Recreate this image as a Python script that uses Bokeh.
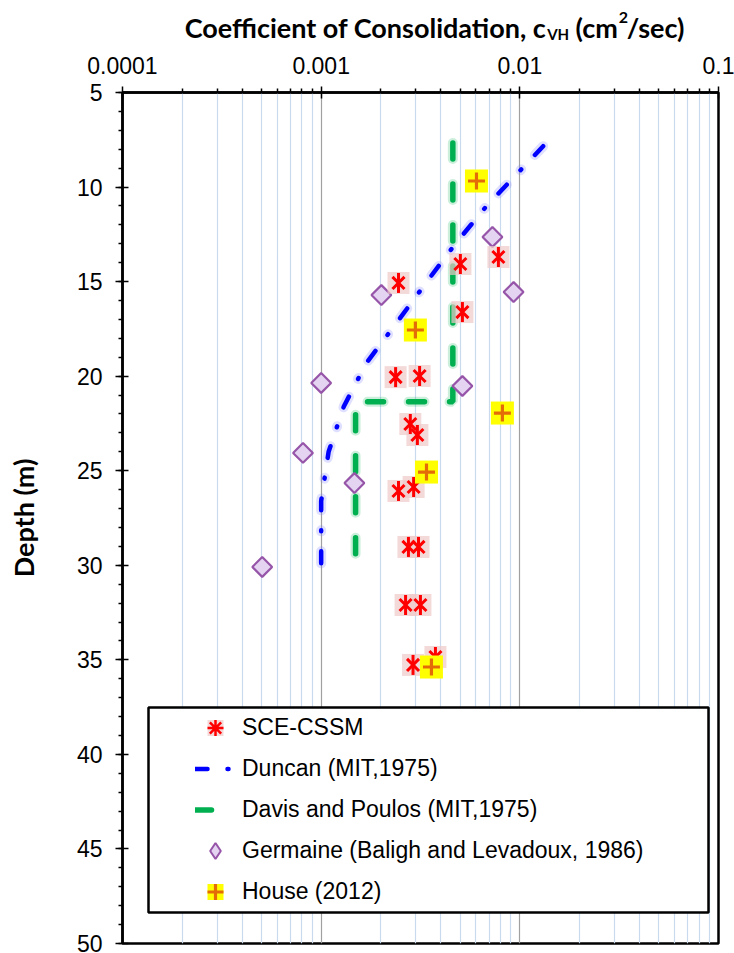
import numpy as np
from bokeh.plotting import figure
from bokeh.layouts import column
from bokeh.models import (Range1d, FixedTicker, Legend, LegendItem, BoxAnnotation)
from bokeh.core.properties import value
from bokeh.embed import file_html
from bokeh.resources import INLINE

# ---------------- data ----------------
sce_cv = [0.00245, 0.00502, 0.0078, 0.00514, 0.00237, 0.00313, 0.00281, 0.00305,
          0.00245, 0.00292, 0.00275, 0.00309, 0.00266, 0.00316, 0.0029, 0.00376]
sce_depth = [15.07, 14.07, 13.70, 16.61, 20.05, 19.99, 22.53, 23.11,
             26.07, 25.86, 29.03, 29.03, 32.1, 32.1, 35.27, 34.85]

house_cv = [0.00605, 0.00298, 0.00817, 0.00339, 0.00359]
house_depth = [9.68, 17.56, 21.95, 25.07, 35.38]

germ_cv = [0.00728, 0.00201, 0.0093, 0.001, 0.00514, 0.00081, 0.00147, 0.000505]
germ_depth = [12.64, 15.71, 15.55, 20.36, 20.52, 24.06, 25.65, 30.09]

duncan_cv = [0.0131, 0.0101, 0.0068, 0.00474, 0.00335, 0.00239, 0.00169, 0.0013,
             0.00109, 0.001, 0.001, 0.001]
duncan_depth = [7.84, 9.1, 11.0, 13.0, 15.1, 17.2, 19.3, 21.6, 24.0, 26.6, 29.2, 30.0]

davis_cv = [0.0046, 0.0046, 0.0046, 0.00149, 0.00149]
davis_depth = [7.67, 16.0, 21.35, 21.35, 30.41]

x_ticks = [0.0001, 0.001, 0.01, 0.1]
x_tick_labels = ["0.0001", "0.001", "0.01", "0.1"]
x_minor = [k * 10.0 ** e for e in (-4, -3, -2) for k in range(2, 10)]
y_ticks = list(range(5, 51, 5))
y_minor = list(range(5, 51))

legend_labels = ["SCE-CSSM", "Duncan (MIT,1975)", "Davis and Poulos (MIT,1975)",
                 "Germaine (Baligh and Levadoux, 1986)", "House (2012)"]

title_parts = ["Coefficient of Consolidation, c", "VH", "(cm", "2", "/sec)"]

# ---------------- layout constants (pixels) ----------------
W, H = 734, 953
TH = 46                               # height of the title strip
FL, FR, FT, FB = 122, 718, 92, 943    # frame edges in page pixels

def px2x(px):
    return 10 ** (-4 + 3 * (px - FL) / (FR - FL))
def py2y(py):
    return 5 + 45 * (py - FT) / (FB - FT)

# ---------------- title strip ----------------
t = figure(width=W, height=TH, x_range=Range1d(0, W), y_range=Range1d(TH, 0),
           x_axis_location=None, y_axis_location=None, output_backend="svg",
           toolbar_location=None, min_border=0, title=None)
t.grid.visible = False
t.outline_line_color = None
t.background_fill_color = "white"
t.border_fill_color = "white"
tk = dict(text_font=value("Lato"), text_font_style="bold", text_color="black",
          text_baseline="alphabetic")
t.text(x=[522], y=[27], text=[title_parts[0]], text_align="right", text_font_size="27px", **tk)
t.text(x=[523], y=[33], text=[title_parts[1]], text_align="left", text_font_size="15px", **tk)
t.text(x=[610], y=[27], text=[title_parts[2]], text_align="right", text_font_size="27px", **tk)
t.text(x=[611], y=[17], text=[title_parts[3]], text_align="left", text_font_size="16px", **tk)
t.text(x=[621], y=[27], text=[title_parts[4]], text_align="left", text_font_size="27px", **tk)

# ---------------- main plot ----------------
p = figure(width=W, height=H - TH, x_axis_type="log",
           x_range=Range1d(1e-4, 0.1), y_range=Range1d(50, 5),
           x_axis_location="above", output_backend="svg", toolbar_location=None,
           min_border_left=FL, min_border_right=W - FR, min_border_top=FT - TH,
           min_border_bottom=H - FB, title=None)
p.background_fill_color = "white"
p.border_fill_color = "white"
p.outline_line_color = "black"
p.outline_line_width = 2.5

xt = FixedTicker(ticks=x_ticks, minor_ticks=x_minor)
yt = FixedTicker(ticks=y_ticks, minor_ticks=y_minor)
p.xaxis.ticker = xt
p.yaxis.ticker = yt
p.xgrid.ticker = xt
p.xaxis.major_label_overrides = {tv: tl for tv, tl in zip(x_ticks, x_tick_labels)}

for ax in (p.xaxis, p.yaxis):
    ax.axis_line_width = 2.5
    ax.axis_line_color = "black"
    ax.major_tick_line_width = 1.5
    ax.minor_tick_line_width = 1.5
    ax.major_tick_line_color = "black"
    ax.minor_tick_line_color = "black"
    ax.major_tick_in = 6
    ax.minor_tick_in = 0
    ax.minor_tick_out = 4
    ax.major_label_text_font = "Liberation Sans"
    ax.major_label_text_font_size = "23px"
    ax.major_label_text_color = "black"
    ax.major_label_standoff = 13
p.xaxis.major_tick_out = 6
p.yaxis.major_tick_out = 7

p.yaxis.axis_label = "Depth (m)"
p.yaxis.axis_label_text_font = "Lato"
p.yaxis.axis_label_text_font_style = "bold"
p.yaxis.axis_label_text_font_size = "27px"
p.yaxis.axis_label_text_color = "black"
p.yaxis.axis_label_standoff = 34

p.ygrid.visible = False
p.xgrid.grid_line_color = "#a0a0a0"
p.xgrid.grid_line_width = 1.2
p.xgrid.minor_grid_line_color = "#c9d9ee"
p.xgrid.minor_grid_line_width = 1.2

# ---------------- lines ----------------
p.line(duncan_cv, duncan_depth, line_color="#6f6fff", line_alpha=0.22, line_width=10,
       line_dash="12 20 1 20", line_cap="round")
duncan = p.line(duncan_cv, duncan_depth, line_color="#0000ff", line_width=4.5,
                line_dash="12 20 1 20", line_cap="round")
p.line(davis_cv, davis_depth, line_color="#00b050", line_alpha=0.2, line_width=10,
       line_dash="16 25", line_cap="round")
davis = p.line(davis_cv, davis_depth, line_color="#00b050", line_width=5.5,
               line_dash="16 25", line_cap="round")

# ---------------- markers ----------------
germ = p.scatter(germ_cv, germ_depth, marker="square", angle=np.pi / 4, size=14,
                 fill_color="#e4d4f2", line_color="#9655a8", line_width=2.2)
# legend proxy (zero size in the plot; the legend draws markers at its own size)
germ_key = p.scatter(germ_cv, germ_depth, marker="diamond", size=0,
                     fill_color="#e4d4f2", line_color="#9655a8", line_width=2)

sce_bg = p.scatter(sce_cv, sce_depth, marker="square", size=22, fill_color="#efc9c9",
                   fill_alpha=0.7, line_color=None)
sce_x = p.scatter(sce_cv, sce_depth, marker="x", size=17, line_color="#ff0000",
                  line_width=3)
sce_v = p.scatter(sce_cv, sce_depth, marker="dash", angle=np.pi / 2, size=20,
                  line_color="#ff0000", line_width=3)
sce_key = p.scatter(sce_cv, sce_depth, marker="asterisk", size=0, line_color="#ff0000",
                    line_width=2.5)

house_bg = p.scatter(house_cv, house_depth, marker="square", size=23,
                     fill_color="#ffff00", line_color=None)
house = p.scatter(house_cv, house_depth, marker="cross", size=17,
                  line_color="#e36c09", line_width=3.2)

# ---------------- legend ----------------
box = BoxAnnotation(left=px2x(148), right=px2x(708), top=py2y(707), bottom=py2y(912),
                    fill_color="white", fill_alpha=1.0, line_color="black",
                    line_width=2.5, line_alpha=1.0)
p.add_layout(box)

items = [
    LegendItem(label=value(legend_labels[0]), renderers=[sce_bg, sce_key]),
    LegendItem(label=value(legend_labels[1]), renderers=[duncan]),
    LegendItem(label=value(legend_labels[2]), renderers=[davis]),
    LegendItem(label=value(legend_labels[3]), renderers=[germ_key]),
    LegendItem(label=value(legend_labels[4]), renderers=[house_bg, house]),
]
legend = Legend(items=items, location=(195 - FL, FB - 912), padding=0, spacing=0, margin=0,
                glyph_width=40, glyph_height=41, label_height=41, label_standoff=7,
                label_text_font="Liberation Sans", label_text_font_size="23px",
                label_text_color="black",
                background_fill_alpha=0, border_line_alpha=0)
p.add_layout(legend)

layout = column(t, p, spacing=0)
open("out.html", "w").write(file_html(layout, INLINE))
